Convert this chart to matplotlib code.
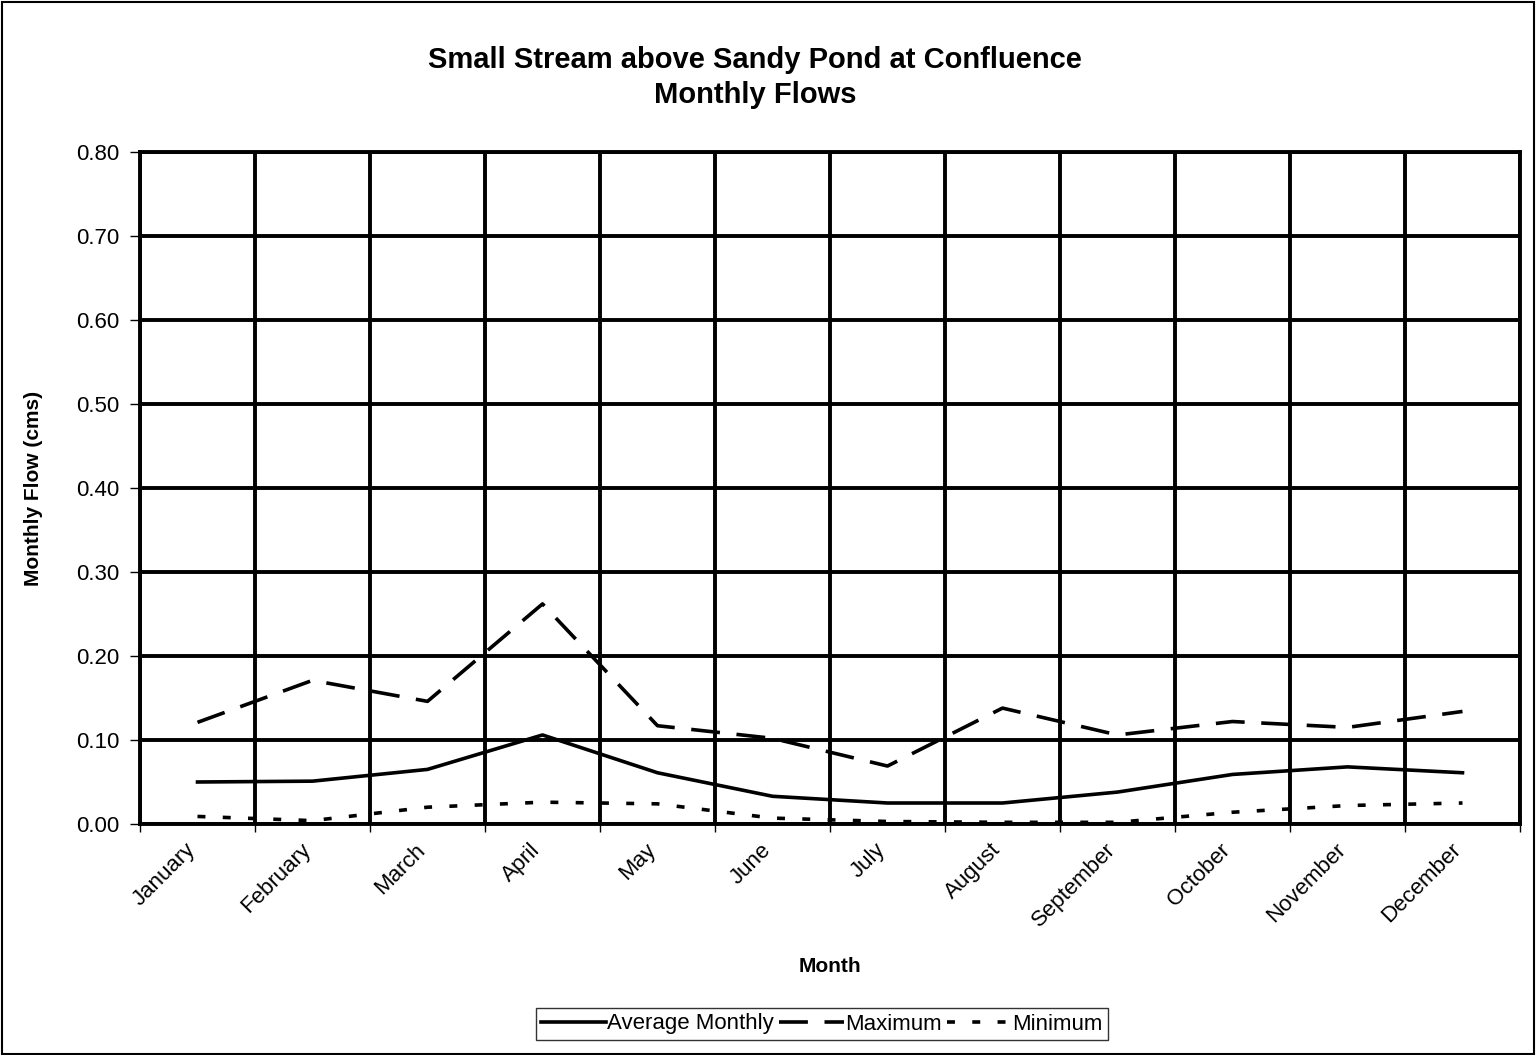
"""
Monthly flows for Small Stream above Sandy Pond
"""

import matplotlib.pyplot as plt
from matplotlib.patches import Rectangle
from matplotlib.ticker import MultipleLocator, FixedLocator, FormatStrFormatter

plt.rcParams['font.family'] = ['Liberation Sans', 'DejaVu Sans']

months = ['January', 'February', 'March', 'April', 'May', 'June', 'July',
          'August', 'September', 'October', 'November', 'December']
avg_flow = [0.050, 0.051, 0.065, 0.106, 0.061, 0.033, 0.025, 0.025,
            0.038, 0.059, 0.068, 0.061]
max_flow = [0.121, 0.171, 0.146, 0.262, 0.117, 0.102, 0.069, 0.138,
            0.106, 0.122, 0.115, 0.134]
min_flow = [0.009, 0.004, 0.020, 0.026, 0.024, 0.007, 0.003, 0.002,
            0.002, 0.014, 0.022, 0.025]

W, H = 1536, 1055
fig = plt.figure(figsize=(W / 100, H / 100), dpi=100)
fig.patches.append(Rectangle((1.5 / W, 1.5 / H), 1 - 3.5 / W, 1 - 3.5 / H,
                             transform=fig.transFigure, fill=False,
                             edgecolor='black', linewidth=1.5))

ax = fig.add_axes([140 / W, 1 - 824 / H, 1380 / W, 672 / H])
x = list(range(len(months)))

lw = 2.6
ax.plot(x, avg_flow, color='black', lw=lw, label='Average Monthly')
ax.plot(x, max_flow, color='black', lw=lw, dashes=(8, 4.6), label='Maximum')
ax.plot(x, min_flow, color='black', lw=lw, dashes=(2.2, 4.8), label='Minimum')

ax.set_xlim(-0.5, len(months) - 0.5)
ax.set_ylim(0, 0.8)

# y axis
ax.yaxis.set_major_locator(MultipleLocator(0.1))
ax.yaxis.set_major_formatter(FormatStrFormatter('%.2f'))
ax.tick_params(axis='y', direction='out', length=7, width=1, pad=8,
               labelsize=16)

# x axis: labels at centres, ticks and grid at the boundaries
ax.set_xticks(x)
ax.set_xticklabels([])
ax.xaxis.set_minor_locator(FixedLocator([i - 0.5 for i in range(len(months) + 1)]))
ax.tick_params(axis='x', which='major', length=0)
ax.tick_params(axis='x', which='minor', direction='out', length=6, width=1)
for i, m in enumerate(months):
    ax.annotate(m, xy=(i, 0), xycoords='data', xytext=(-9, -11),
                textcoords='offset points', rotation=45, ha='right', va='top',
                rotation_mode='anchor', fontsize=16)

ax.grid(True, which='major', axis='y', color='black', lw=2.8)
ax.grid(True, which='minor', axis='x', color='black', lw=2.8)
ax.set_axisbelow(True)
for s in ax.spines.values():
    s.set_linewidth(2.8)

ax.set_ylabel('Monthly Flow (cms)', fontsize=15, fontweight='bold')
ax.yaxis.set_label_coords(-0.070, 0.5)
ax.set_xlabel('Month', fontsize=15, fontweight='bold')
ax.xaxis.set_label_coords(0.5, -0.198)

fig.text(755 / W, 1 - 60 / H, 'Small Stream above Sandy Pond at Confluence',
         ha='center', va='center', fontsize=21, fontweight='bold')
fig.text(755 / W, 1 - 95 / H, 'Monthly Flows', ha='center', va='center',
         fontsize=21, fontweight='bold')

leg = fig.legend(loc='center', bbox_to_anchor=(822 / W, 1 - 1024 / H), ncol=3,
                 fontsize=16, frameon=True, fancybox=False, edgecolor='black',
                 handlelength=2.9, handletextpad=0.05, columnspacing=0.25,
                 borderpad=0.25, borderaxespad=0)
leg.get_frame().set_linewidth(1)

fig.savefig('out.png', dpi=100, facecolor='white')
